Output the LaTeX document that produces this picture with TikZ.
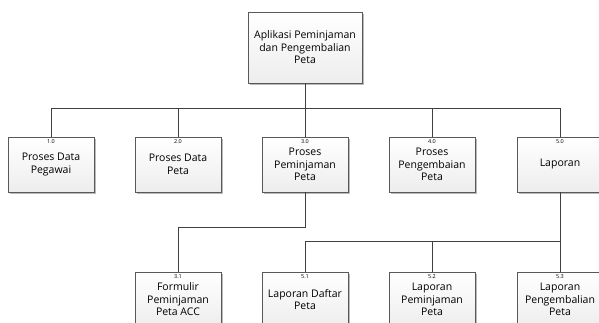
\documentclass[tikz,border=0pt]{standalone}
\usepackage{fontspec}
\setmainfont{Open Sans}
\usetikzlibrary{positioning, shadows}

\begin{document}
\begin{tikzpicture}[x=1pt, y=-1pt,
	every node/.style={font=\fontsize{10.5}{12.5}\selectfont, align=center},
	box/.style={draw=black!65, line width=0.8pt, top color=white, bottom color=black!7,
		minimum width=86pt, minimum height=55pt, inner sep=1pt,
		drop shadow={shadow xshift=1.6pt, shadow yshift=-1.6pt, opacity=0.45, fill=black!60}},
	num/.style={inner sep=1pt, label distance=-8.5pt, font=\fontsize{5.5}{6}\selectfont},
	conn/.style={draw=black!75, line width=0.8pt}]
	\useasboundingbox (0,0) rectangle (599,323);
	% akar
	\node[box, minimum width=114pt, minimum height=71pt] (app) at (305,47.5) {Aplikasi Peminjaman\\dan Pengembalian\\Peta};
	% level 1
	\node[box, label={[num]north:1.0}] (p1) at (51,164.5) {Proses Data\\Pegawai};
	\node[box, label={[num]north:2.0}] (p2) at (178,164.5) {Proses Data\\Peta};
	\node[box, label={[num]north:3.0}] (p3) at (305,164.5) {Proses\\Peminjaman\\Peta};
	\node[box, label={[num]north:4.0}] (p4) at (432,164.5) {Proses\\Pengembaian\\Peta};
	\node[box, label={[num]north:5.0}] (p5) at (560,164.5) {Laporan};
	% level 2
	\node[box, label={[num]north:3.1}] (s31) at (178,299.5) {Formulir\\Peminjaman\\Peta ACC};
	\node[box, label={[num]north:5.1}] (s51) at (305,299.5) {Laporan Daftar\\Peta};
	\node[box, label={[num]north:5.2}] (s52) at (432,299.5) {Laporan\\Peminjaman\\Peta};
	\node[box, label={[num]north:5.3}] (s53) at (560,299.5) {Laporan\\Pengembalian\\Peta};
	% garis
	\coordinate (bus) at (305,108);
	\draw[conn] (app.south) -- (bus);
	\foreach \n in {p1,p2,p3,p4,p5} {\draw[conn] (bus) -| (\n.north);}
	\draw[conn] (p3.south) -- ++(0,35) -| (s31.north);
	\draw[conn] (p5.south) -- ++(0,49) coordinate (b5);
	\foreach \n in {s51,s52,s53} {\draw[conn] (b5) -| (\n.north);}
\end{tikzpicture}
\end{document}
